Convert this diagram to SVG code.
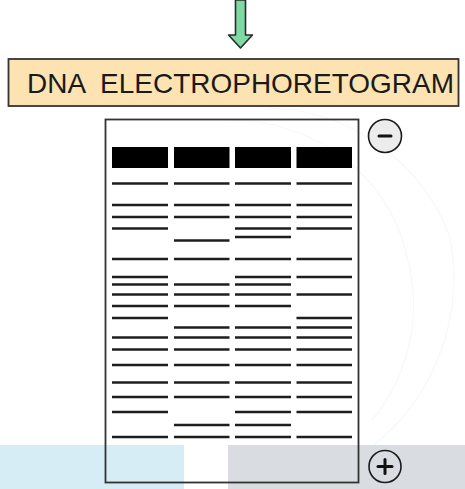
<svg xmlns="http://www.w3.org/2000/svg" width="465" height="489" viewBox="0 0 465 489">
  <style>
    .band { stroke: #1e1e1e; stroke-width: 2.6; stroke-linecap: butt; }
    .well { fill: #000; }
    .frame { fill: none; stroke: #333; stroke-width: 1.8; }
    .sign { stroke: #1a1a1a; stroke-width: 1.6; }
    .glyph { stroke: #111; stroke-width: 3; stroke-linecap: round; }
    .title { font-family: "Liberation Sans", Arial, sans-serif; font-size: 28px; fill: #1a1a1a; white-space: pre; }
    .halo { fill: none; stroke: #f6f8fa; stroke-width: 1.2; }
  </style>

  <!-- backdrop -->
  <rect x="0" y="0" width="465" height="489" fill="#ffffff"/>
  <path class="halo" d="M 230 120 A 180 170 0 0 1 407 257 A 180 180 0 0 1 372 420"/>
  <path class="halo" d="M 270 108 A 200 200 0 0 1 450 237 A 200 210 0 0 1 370 448"/>
  <rect x="0" y="445" width="184" height="44" fill="#d6edf5"/>
  <rect x="228" y="445" width="237" height="44" fill="#d9dde1"/>

  <!-- downward arrow -->
  <g id="arrow">
    <path d="M 235.5 0 L 245.5 0 L 245.5 35 L 252.5 35 L 240.5 48 L 228.5 35 L 235.5 35 Z" fill="#7fd9a3" stroke="#2a2a2a" stroke-width="1.6" stroke-linejoin="round"/>
  </g>

  <!-- title label -->
  <g id="title">
    <rect x="8.5" y="59" width="450" height="47" fill="#fde3b2" stroke="#333" stroke-width="1.8"/>
    <text class="title" x="27" y="93" textLength="427" lengthAdjust="spacingAndGlyphs" xml:space="preserve">DNA  ELECTROPHORETOGRAM</text>
  </g>

  <!-- gel slab -->
  <g id="gel">
    <rect class="frame" x="105.5" y="119.5" width="253" height="363"/>
    <!-- sample wells -->
    <rect class="well" x="112" y="147" width="56" height="21"/>
    <rect class="well" x="174" y="147" width="55.5" height="21"/>
    <rect class="well" x="235" y="147" width="56" height="21"/>
    <rect class="well" x="296.5" y="147" width="55.5" height="21"/>
  </g>

  <!-- lane 1 -->
  <g id="lane1" class="band">
    <line x1="112" x2="168" y1="183.5" y2="183.5"/>
    <line x1="112" x2="168" y1="205" y2="205"/>
    <line x1="112" x2="168" y1="217" y2="217"/>
    <line x1="112" x2="168" y1="228.5" y2="228.5"/>
    <line x1="112" x2="168" y1="259" y2="259"/>
    <line x1="112" x2="168" y1="277" y2="277"/>
    <line x1="112" x2="168" y1="284.5" y2="284.5"/>
    <line x1="112" x2="168" y1="294.5" y2="294.5"/>
    <line x1="112" x2="168" y1="306" y2="306"/>
    <line x1="112" x2="168" y1="318" y2="318"/>
    <line x1="112" x2="168" y1="337.5" y2="337.5"/>
    <line x1="112" x2="168" y1="349.5" y2="349.5"/>
    <line x1="112" x2="168" y1="365" y2="365"/>
    <line x1="112" x2="168" y1="382.5" y2="382.5"/>
    <line x1="112" x2="168" y1="397" y2="397"/>
    <line x1="112" x2="168" y1="412" y2="412"/>
    <line x1="112" x2="168" y1="437" y2="437"/>
  </g>

  <!-- lane 2 -->
  <g id="lane2" class="band">
    <line x1="174" x2="229.5" y1="183.5" y2="183.5"/>
    <line x1="174" x2="229.5" y1="205" y2="205"/>
    <line x1="174" x2="229.5" y1="217" y2="217"/>
    <line x1="174" x2="229.5" y1="240.5" y2="240.5"/>
    <line x1="174" x2="229.5" y1="259" y2="259"/>
    <line x1="174" x2="229.5" y1="284.5" y2="284.5"/>
    <line x1="174" x2="229.5" y1="294.5" y2="294.5"/>
    <line x1="174" x2="229.5" y1="306" y2="306"/>
    <line x1="174" x2="229.5" y1="327.5" y2="327.5"/>
    <line x1="174" x2="229.5" y1="337.5" y2="337.5"/>
    <line x1="174" x2="229.5" y1="349.5" y2="349.5"/>
    <line x1="174" x2="229.5" y1="365" y2="365"/>
    <line x1="174" x2="229.5" y1="382.5" y2="382.5"/>
    <line x1="174" x2="229.5" y1="397" y2="397"/>
    <line x1="174" x2="229.5" y1="425" y2="425"/>
    <line x1="174" x2="229.5" y1="437" y2="437"/>
  </g>

  <!-- lane 3 -->
  <g id="lane3" class="band">
    <line x1="235" x2="291" y1="183.5" y2="183.5"/>
    <line x1="235" x2="291" y1="205" y2="205"/>
    <line x1="235" x2="291" y1="217" y2="217"/>
    <line x1="235" x2="291" y1="228.5" y2="228.5"/>
    <line x1="235" x2="291" y1="237" y2="237"/>
    <line x1="235" x2="291" y1="259" y2="259"/>
    <line x1="235" x2="291" y1="277" y2="277"/>
    <line x1="235" x2="291" y1="284.5" y2="284.5"/>
    <line x1="235" x2="291" y1="294.5" y2="294.5"/>
    <line x1="235" x2="291" y1="306" y2="306"/>
    <line x1="235" x2="291" y1="327.5" y2="327.5"/>
    <line x1="235" x2="291" y1="337.5" y2="337.5"/>
    <line x1="235" x2="291" y1="349.5" y2="349.5"/>
    <line x1="235" x2="291" y1="365" y2="365"/>
    <line x1="235" x2="291" y1="382.5" y2="382.5"/>
    <line x1="235" x2="291" y1="397" y2="397"/>
    <line x1="235" x2="291" y1="412" y2="412"/>
    <line x1="235" x2="291" y1="425" y2="425"/>
    <line x1="235" x2="291" y1="437" y2="437"/>
  </g>

  <!-- lane 4 -->
  <g id="lane4" class="band">
    <line x1="296.5" x2="352" y1="183.5" y2="183.5"/>
    <line x1="296.5" x2="352" y1="205" y2="205"/>
    <line x1="296.5" x2="352" y1="217" y2="217"/>
    <line x1="296.5" x2="352" y1="228.5" y2="228.5"/>
    <line x1="296.5" x2="352" y1="259" y2="259"/>
    <line x1="296.5" x2="352" y1="277" y2="277"/>
    <line x1="296.5" x2="352" y1="294.5" y2="294.5"/>
    <line x1="296.5" x2="352" y1="318" y2="318"/>
    <line x1="296.5" x2="352" y1="327.5" y2="327.5"/>
    <line x1="296.5" x2="352" y1="337.5" y2="337.5"/>
    <line x1="296.5" x2="352" y1="349.5" y2="349.5"/>
    <line x1="296.5" x2="352" y1="365" y2="365"/>
    <line x1="296.5" x2="352" y1="382.5" y2="382.5"/>
    <line x1="296.5" x2="352" y1="397" y2="397"/>
    <line x1="296.5" x2="352" y1="412" y2="412"/>
    <line x1="296.5" x2="352" y1="437" y2="437"/>
  </g>

  <!-- electrodes -->
  <g id="cathode">
    <circle class="sign" cx="385" cy="136" r="16.5" fill="#ececec"/>
    <line class="glyph" x1="379" y1="136" x2="391" y2="136"/>
  </g>
  <g id="anode">
    <circle class="sign" cx="385" cy="466.5" r="16" fill="none"/>
    <line class="glyph" x1="378" y1="466.5" x2="392" y2="466.5"/>
    <line class="glyph" x1="385" y1="459.5" x2="385" y2="473.5"/>
  </g>
</svg>
